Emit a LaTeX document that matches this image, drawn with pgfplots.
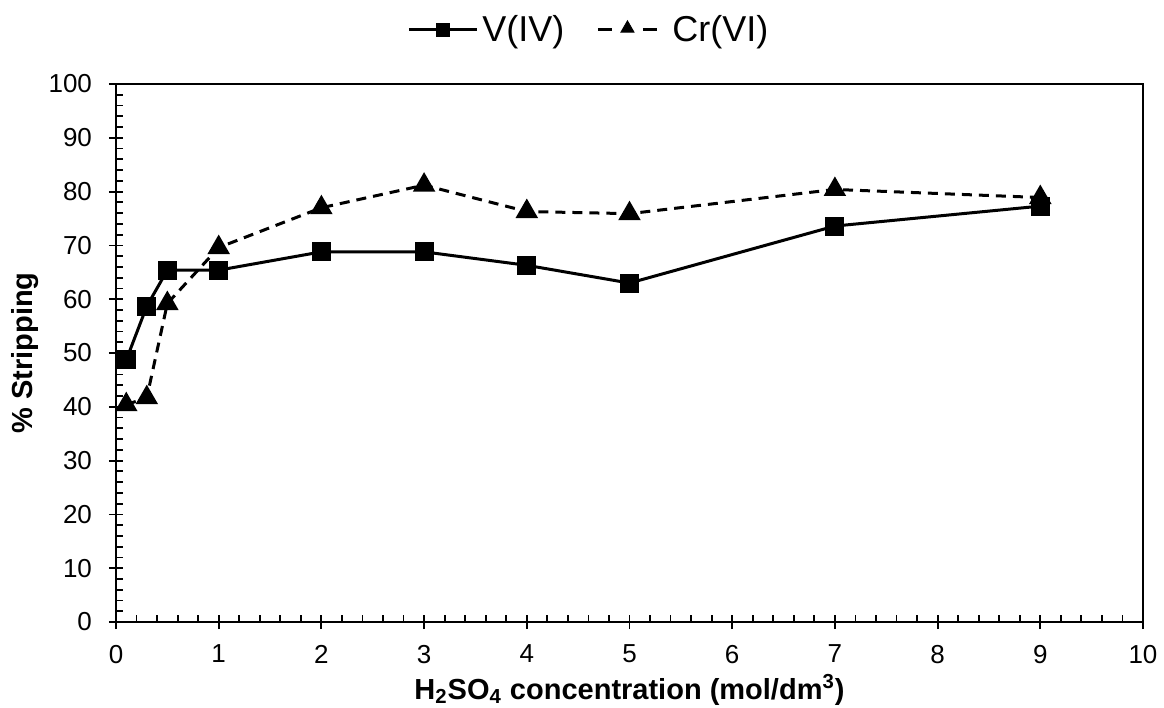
\documentclass[border=0pt]{standalone}
\usepackage{pgfplots}
\pgfplotsset{compat=1.18}
\usepackage{fontspec}
\setmainfont{Liberation Sans}
\begin{document}
\begin{tikzpicture}
\path[use as bounding box] (-58pt,-43pt) rectangle (524pt,311pt);
\begin{axis}[
  at={(0,0)}, anchor=south west,
  scale only axis, width=513.5pt, height=269pt,
  xmin=0, xmax=10, ymin=0, ymax=100,
  xtick={0,1,...,10}, ytick={0,10,...,100},
  minor x tick num=4, minor y tick num=4,
  xtick pos=bottom, ytick pos=left,
  tick align=center, major tick length=7pt, minor tick length=3.5pt,
  minor x tick style={yshift=1.75pt}, minor y tick style={xshift=1.75pt},
  axis line style={line width=1pt},
  tick style={black, line width=0.9pt},
  tick label style={font=\fontsize{13}{15}\selectfont},
  xticklabel style={yshift=-4.5pt},
  yticklabel style={xshift=-5pt},
  /pgf/number format/assume math mode=true,
  xlabel={H\textsubscript{2}SO\textsubscript{4} concentration (mol/dm\textsuperscript{3})},
  ylabel={\% Stripping},
  label style={font=\bfseries\fontsize{14.5}{17}\selectfont},
  xlabel style={at={(axis description cs:0.5,-0.1264)}, anchor=center},
  ylabel style={at={(axis description cs:-0.0886,0.5)}, anchor=center},
  legend columns=2,
  legend style={at={(axis description cs:0.4615,1.1004)}, anchor=center, draw=none, fill=none,
    font=\fontsize{18}{21}\selectfont,
    /tikz/every even column/.append style={column sep=14pt}},
  legend image code/.code={\draw[mark repeat=2,mark phase=2,#1] plot coordinates {(0pt,0pt) (17pt,0pt) (34pt,0pt)};},
  legend image post style={mark size=2.8pt},
]
\addplot[black, line width=1.5pt, mark=square*, mark size=4pt, mark options={solid}] coordinates {
(0.1,48.7) (0.3,58.7) (0.5,65.4) (1,65.4) (2,68.8) (3,68.8) (4,66.3) (5,63.0) (7,73.6) (9,77.3)
};
\addlegendentry{V(IV)}
\addplot[black, line width=1.5pt, dash pattern=on 5pt off 3.5pt, mark=triangle*, mark size=5pt, mark options={solid}, forget plot] coordinates {
(0.1,40.4) (0.3,41.7) (0.5,59.2) (1,69.6) (2,77.0) (3,81.2) (4,76.3) (5,75.9) (7,80.4) (9,78.9)
};
\addlegendimage{legend image code/.code={
  \draw[black, solid, line width=1.5pt] (0pt,0pt) -- (7pt,0pt);
  \draw[black, solid, line width=1.5pt] (22.5pt,0pt) -- (29.5pt,0pt);
  \draw[black, solid] plot[only marks, mark=triangle*, mark size=3.8pt] coordinates {(14.75pt,0.8pt)};
}}
\addlegendentry{\ Cr(VI)}
\end{axis}
\end{tikzpicture}
\end{document}
